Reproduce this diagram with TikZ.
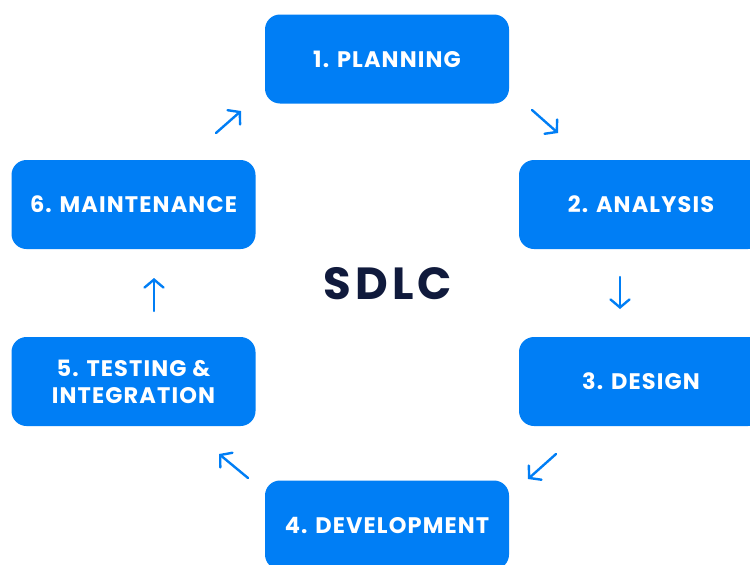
\documentclass[tikz,border=0pt]{standalone}
\usepackage{fontspec}
\setmainfont{Poppins}
\newfontfamily\labelfont[LetterSpace=5]{Poppins}
\newfontfamily\titlefont[LetterSpace=9]{Poppins}
\usetikzlibrary{arrows.meta}
\definecolor{boxblue}{RGB}{0,126,245}
\definecolor{navy}{RGB}{16,26,60}
\tikzset{
  phase/.style={draw=none, fill=boxblue, rounded corners=15pt, minimum width=244pt, minimum height=89pt,
    text=white, font=\labelfont\bfseries\fontsize{22.5}{27}\selectfont, align=center, inner sep=0pt},
  flow/.style={draw=boxblue, line width=2.4pt, line cap=round, -{Straight Barb[length=8pt,width=19pt,line cap=round]}}
}
\begin{document}
\begin{tikzpicture}[x=1pt,y=-1pt]
\clip (0,0) rectangle (750,565);
\fill[white] (0,0) rectangle (750,565);
\node[phase] (p1) at (387,59) {1. PLANNING};
\node[phase] (p2) at (641,204.5) {2. ANALYSIS};
\node[phase] (p3) at (641,381.5) {3. DESIGN};
\node[phase] (p4) at (387,525) {4. DEVELOPMENT};
\node[phase] (p5) at (133.5,381.5) {5. TESTING \&\\INTEGRATION};
\node[phase] (p6) at (133.5,204.5) {6. MAINTENANCE};
\node[text=navy, font=\titlefont\bfseries\fontsize{45}{45}\selectfont] (t) at (388,284) {SDLC};
\coordinate (a1s) at (532,110); \coordinate (a1e) at (558,133);
\coordinate (a2s) at (620,277); \coordinate (a2e) at (620,309);
\coordinate (a3s) at (556,454); \coordinate (a3e) at (528,479);
\coordinate (a4s) at (248,478); \coordinate (a4e) at (219,454);
\coordinate (a5s) at (154,311); \coordinate (a5e) at (154,278);
\coordinate (a6s) at (216,133); \coordinate (a6e) at (241,111);
\draw[flow] (a1s) -- (a1e);
\draw[flow] (a2s) -- (a2e);
\draw[flow] (a3s) -- (a3e);
\draw[flow] (a4s) -- (a4e);
\draw[flow] (a5s) -- (a5e);
\draw[flow] (a6s) -- (a6e);
\end{tikzpicture}
\end{document}
